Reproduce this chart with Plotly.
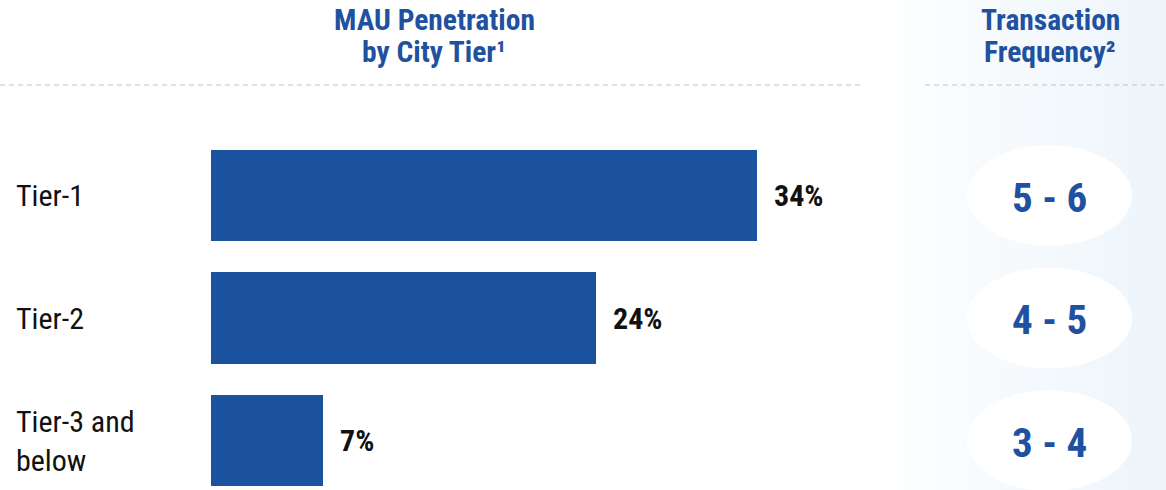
import plotly.graph_objects as go

# ---- data ----
categories = ["Tier-1", "Tier-2", "Tier-3 and<br>below"]
penetration = [34, 24, 7]
value_labels = ["34%", "24%", "7%"]
frequency = ["5 - 6", "4 - 5", "3 - 4"]
header_left = ["MAU Penetration", "by City Tier\u00b9"]
header_right = ["Transaction", "Frequency\u00b2"]

W, H = 1166, 490
BLUE = "#1a52a0"
HEAD = "#1f51a0"
FONT = "Roboto Condensed, Liberation Sans Narrow, Roboto, sans-serif"

ypos = list(range(len(categories)))

fig = go.Figure()
fig.add_trace(go.Bar(
    x=penetration, y=ypos, orientation="h",
    marker=dict(color=BLUE, line=dict(width=0)),
    width=0.743, hoverinfo="skip", showlegend=False,
))

shapes = []
# gradient panel on the right
x_start, x_end = 862, W
n = 40
c0 = (255, 255, 255)
c1 = (237, 245, 251)
for i in range(n):
    t = (i + 0.5) / n
    col = tuple(round(c0[k] + (c1[k] - c0[k]) * t) for k in range(3))
    xa = x_start + (x_end - x_start) * i / n
    xb = x_start + (x_end - x_start) * (i + 1) / n + 0.6
    shapes.append(dict(type="rect", xref="paper", yref="paper",
                       x0=xa / W, x1=min(xb, W) / W, y0=0, y1=1,
                       fillcolor="rgb(%d,%d,%d)" % col, line=dict(width=0),
                       layer="below"))
# dashed separator lines
for xa, xb in [(0, 860), (925, W)]:
    shapes.append(dict(type="line", xref="paper", yref="paper",
                       x0=xa / W, x1=xb / W, y0=(H - 85) / H, y1=(H - 85) / H,
                       line=dict(color="#c2c2c2", width=1.2, dash="5px,4px"),
                       layer="below"))
# ellipses
for i in ypos:
    shapes.append(dict(type="circle", xref="paper", yref="y",
                       x0=967 / W, x1=1132 / W, y0=i - 0.41, y1=i + 0.41,
                       fillcolor="white", line=dict(width=0), layer="below"))

annotations = []
for i, (c, v, lab, fq) in enumerate(zip(categories, penetration, value_labels, frequency)):
    annotations.append(dict(x=14 / W, xref="paper", y=i, yref="y", text=c,
                            xanchor="left", yanchor="middle", align="left",
                            showarrow=False,
                            font=dict(family=FONT, size=30, color="#111111")))
    annotations.append(dict(x=v, xref="x", y=i, yref="y", text="<b>%s</b>" % lab,
                            xanchor="left", yanchor="middle", xshift=15,
                            showarrow=False,
                            font=dict(family=FONT, size=30, color="#111111")))
    annotations.append(dict(x=1049.5 / W, xref="paper", y=i, yref="y",
                            text="<b>%s</b>" % fq, showarrow=False,
                            xanchor="center", yanchor="middle", yshift=-2,
                            font=dict(family=FONT, size=41, color=HEAD)))
for lines, xc in [(header_left, 434), (header_right, 1050)]:
    for j, line in enumerate(lines):
        annotations.append(dict(x=xc / W, xref="paper", y=1 - (20 + 32 * j) / H,
                                yref="paper", text="<b>%s</b>" % line,
                                xanchor="center", yanchor="middle",
                                showarrow=False,
                                font=dict(family=FONT, size=29.5, color=HEAD)))

px_per_unit = 16.05
x_dom = (211 / W, 874 / W)
pitch = 122.5
first_center = 195.5

fig.update_layout(
    width=W, height=H,
    margin=dict(l=0, r=0, t=0, b=0),
    paper_bgcolor="white", plot_bgcolor="rgba(0,0,0,0)",
    xaxis=dict(domain=list(x_dom), range=[0, (874 - 211) / px_per_unit],
               visible=False, fixedrange=True),
    yaxis=dict(domain=[0, 1],
               range=[(H - first_center) / pitch, -first_center / pitch],
               visible=False, fixedrange=True),
    shapes=shapes, annotations=annotations,
    bargap=0,
)

fig.write_html("out.html", config={"displayModeBar": False},
               post_script="document.body.style.margin='0';document.body.style.overflow='hidden';")
